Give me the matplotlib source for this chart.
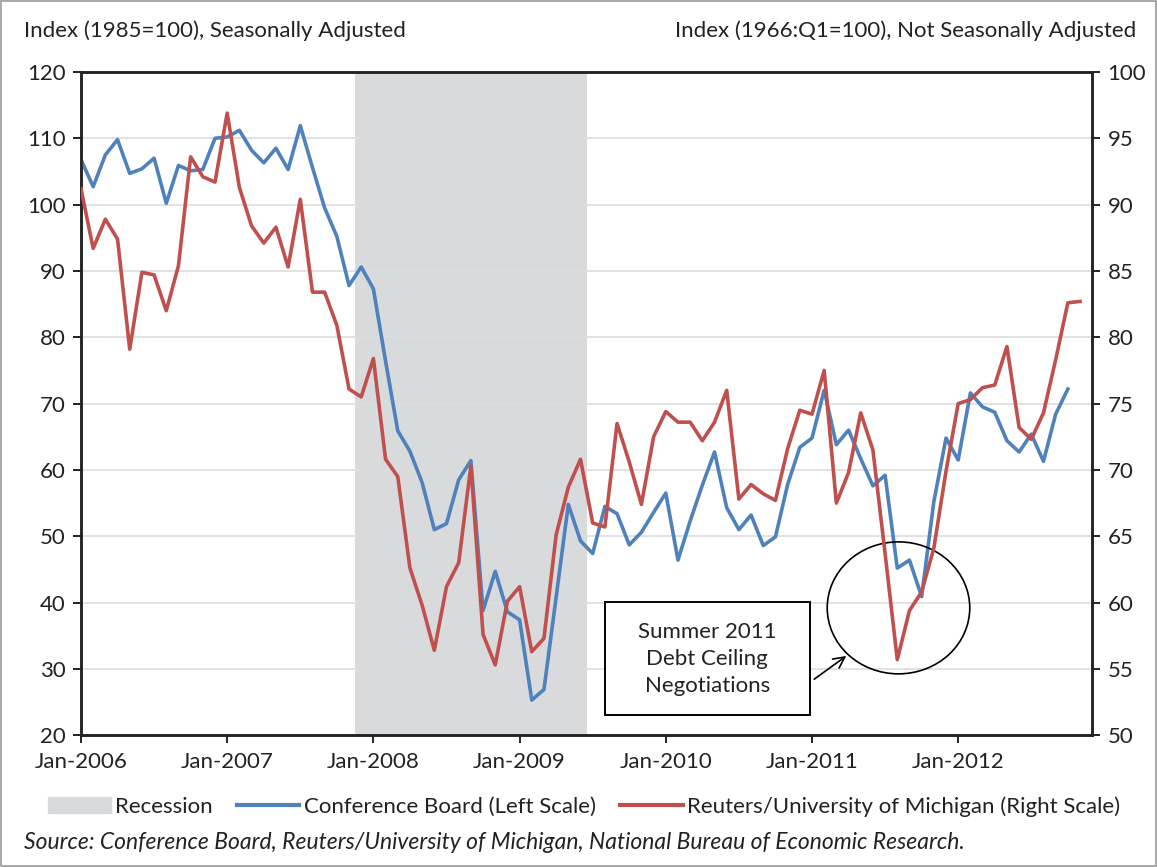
import numpy as np
import matplotlib.pyplot as plt
from matplotlib.patches import Ellipse, Rectangle, Patch
from matplotlib.lines import Line2D

plt.rcParams['font.family'] = ['Lato', 'DejaVu Sans']

# monthly values, Jan-2006 .. Oct/Nov-2012
conf_board = [
    106.8, 102.7, 107.5, 109.8, 104.7, 105.4, 107.0, 100.2, 105.9, 105.1, 105.3, 110.0,
    110.2, 111.2, 108.2, 106.3, 108.5, 105.3, 111.9, 105.6, 99.5, 95.2, 87.8, 90.6,
    87.3, 76.4, 65.9, 62.8, 58.1, 51.0, 51.9, 58.5, 61.4, 38.8, 44.7, 38.6,
    37.4, 25.3, 26.9, 40.8, 54.8, 49.3, 47.4, 54.5, 53.4, 48.7, 50.6, 53.6,
    56.5, 46.4, 52.3, 57.7, 62.7, 54.3, 51.0, 53.2, 48.6, 49.9, 57.8, 63.4,
    64.8, 72.0, 63.8, 66.0, 61.7, 57.6, 59.2, 45.2, 46.4, 40.9, 55.2, 64.8,
    61.5, 71.6, 69.5, 68.7, 64.4, 62.7, 65.4, 61.3, 68.4, 72.2,
]
michigan = [
    91.2, 86.7, 88.9, 87.4, 79.1, 84.9, 84.7, 82.0, 85.4, 93.6, 92.1, 91.7,
    96.9, 91.3, 88.4, 87.1, 88.3, 85.3, 90.4, 83.4, 83.4, 80.9, 76.1, 75.5,
    78.4, 70.8, 69.5, 62.6, 59.8, 56.4, 61.2, 63.0, 70.3, 57.6, 55.3, 60.1,
    61.2, 56.3, 57.3, 65.1, 68.7, 70.8, 66.0, 65.7, 73.5, 70.6, 67.4, 72.5,
    74.4, 73.6, 73.6, 72.2, 73.6, 76.0, 67.8, 68.9, 68.2, 67.7, 71.6, 74.5,
    74.2, 77.5, 67.5, 69.8, 74.3, 71.5, 63.7, 55.7, 59.4, 60.8, 64.1, 69.9,
    75.0, 75.3, 76.2, 76.4, 79.3, 73.2, 72.3, 74.3, 78.3, 82.6, 82.7,
]
years = [2006, 2007, 2008, 2009, 2010, 2011, 2012]
recession = (23, 41)  # Dec-2007 .. Jun-2009 (month index)

blue = '#4F81BD'
red = '#C0504D'
grey = '#D9DADC'
fs = 16

fig = plt.figure(figsize=(11.57, 8.67), dpi=100)
ax = fig.add_axes([0.070, 0.152, 0.874, 0.765])
ax2 = ax.twinx()

ax.axvspan(recession[0] - 0.5, recession[1] + 0.5, color=grey, lw=0, zorder=0)
ax.plot(np.arange(len(conf_board)), conf_board, color=blue, lw=2.6, zorder=3)
ax2.plot(np.arange(len(michigan)), michigan, color=red, lw=2.6, zorder=3)

ax.set_xlim(0, 83)
ax.set_ylim(20, 120)
ax2.set_ylim(50, 100)
ax.set_yticks(np.arange(20, 121, 10))
ax2.set_yticks(np.arange(50, 101, 5))
ax.set_xticks([12 * i for i in range(len(years))])
ax.set_xticklabels(['Jan-%d' % y for y in years])
ax.yaxis.grid(True, color='#DDDDDD', lw=1.2, zorder=1)
ax.set_axisbelow(True)

for a in (ax, ax2):
    a.tick_params(labelsize=fs, length=6, width=1.4, color='#222222', labelcolor='#222222')
    for s in a.spines.values():
        s.set_linewidth(1.8)
        s.set_color('#222222')
ax.tick_params(axis='x', pad=6)
ax.tick_params(axis='y', pad=5)
ax2.tick_params(axis='y', pad=5)

# annotation
ax.add_patch(Ellipse((67.1, 39.2), 11.7, 19.9, fill=False, ec='black', lw=1.2, zorder=4))
ax.add_patch(Rectangle((43.05, 23.0), 16.75, 17.05, fill=True, fc='white', ec='black', lw=1.4, zorder=4))
ax.text(51.4, 31.5, 'Summer 2011\nDebt Ceiling\nNegotiations', ha='center', va='center',
        fontsize=fs, color='#222222', linespacing=1.42, zorder=5)
ax.annotate('', xy=(63.0, 32.2), xytext=(60.0, 28.2),
            arrowprops=dict(arrowstyle='->', color='black', lw=1.2, mutation_scale=20), zorder=5)

fig.text(0.021, 0.965, 'Index (1985=100), Seasonally Adjusted', fontsize=fs, color='#222222', va='center')
fig.text(0.982, 0.965, 'Index (1966:Q1=100), Not Seasonally Adjusted', fontsize=fs,
         color='#222222', va='center', ha='right')

handles = [Patch(color=grey), Line2D([], [], color=blue, lw=3), Line2D([], [], color=red, lw=3)]
labels = ['Recession', 'Conference Board (Left Scale)', 'Reuters/University of Michigan (Right Scale)']
fig.legend(handles, labels, loc='center', bbox_to_anchor=(0.505, 0.070), ncol=3, frameon=False,
           fontsize=fs, handlelength=2.8, handletextpad=0.2, columnspacing=1.1, labelcolor='#222222')

fig.text(0.021, 0.028, 'Source: Conference Board, Reuters/University of Michigan, National Bureau of Economic Research.',
         fontsize=16.5, style='italic', color='#222222', va='center')

fig.add_artist(Rectangle((0.001, 0.001), 0.998, 0.998, transform=fig.transFigure, fill=False,
                         ec='#999999', lw=1.2))

fig.savefig('out.png', dpi=100)
